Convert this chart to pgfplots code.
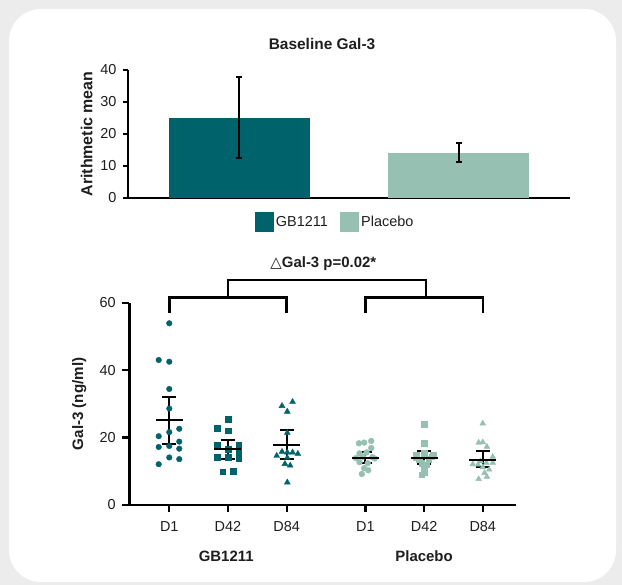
\documentclass[border=0pt]{standalone}
\usepackage{pgfplots}
\pgfplotsset{compat=1.18}
\usepackage{fontspec}
\setmainfont{Liberation Sans}
\newfontfamily\dejavu{DejaVu Sans}
\definecolor{gbteal}{RGB}{0,99,108}
\definecolor{placebo}{RGB}{150,192,177}
\definecolor{bggray}{RGB}{236,236,236}
\definecolor{txt}{RGB}{30,30,30}
\newcommand{\fs}[1]{\fontsize{#1}{#1}\selectfont}
\begin{document}
\begin{tikzpicture}[x=1bp,y=1bp]
\useasboundingbox (0,0) rectangle (622,585);
\fill[bggray] (0,0) rectangle (622,585);
\fill[white, rounded corners=32bp] (9,3) rectangle (616,576);

% ---------------- top chart ----------------
\begin{axis}[
  at={(128bp,387bp)}, anchor=south west,
  scale only axis, width=442bp, height=128bp,
  xmin=-0.508, xmax=1.507, ymin=0, ymax=40,
  axis lines*=left,
  axis line style={line width=2.5bp, black, -},
  xtick=\empty, ytick={0,10,20,30,40},
  tick align=outside, major tick length=5bp,
  tick style={line width=2.3bp, black},
  yticklabel style={font=\fs{14.5}, text=txt, xshift=-3bp, /pgf/number format/assume math mode=true},
  ylabel={\bfseries Arithmetic mean},
  every axis y label/.style={at={(axis description cs:-0.0935,0.5)}, rotate=90, anchor=center, font=\fs{16}, text=txt},
  title={\bfseries Baseline Gal-3},
  every axis title/.style={at={(axis description cs:0.439,1.203)}, anchor=center, font=\fs{15.5}, text=txt},
  legend style={draw=none, fill=none, inner sep=0pt, outer sep=0pt,
    at={(0.2873,-0.1875)}, anchor=west, font=\fs{14.5},
    nodes={inner sep=2.5bp, text=txt},
    /tikz/every even column/.append style={column sep=10bp}},
  legend columns=2,
  legend cell align=left,
  clip=false,
]
\addplot[ybar, bar width=141bp, bar shift=0pt, fill=gbteal, draw=none, forget plot,
  error bars/.cd, y dir=both, y explicit,
  error bar style={line width=2bp, black},
  error mark options={rotate=90, line width=2bp, mark size=3bp, black}]
  coordinates {(0,25.0) += (0,12.8) -= (0,12.5)};
\addplot[ybar, bar width=141bp, bar shift=0pt, fill=placebo, draw=none, forget plot,
  error bars/.cd, y dir=both, y explicit,
  error bar style={line width=2bp, black},
  error mark options={rotate=90, line width=2bp, mark size=3bp, black}]
  coordinates {(1,14.1) += (0,3.0) -= (0,2.9)};
\addlegendimage{legend image code/.code={\fill[gbteal] (0bp,-9.5bp) rectangle (18bp,9.5bp);}}
\addlegendentry{GB1211}
\addlegendimage{legend image code/.code={\fill[placebo] (0bp,-9.5bp) rectangle (18bp,9.5bp);}}
\addlegendentry{Placebo}
\end{axis}

% ---------------- bottom chart ----------------
\begin{axis}[
  at={(129.3bp,80bp)}, anchor=south west,
  scale only axis, width=386.7bp, height=202.3bp,
  xmin=-0.681, xmax=5.906, ymin=0, ymax=60,
  axis lines*=left,
  axis line style={line width=2.5bp, black, -},
  xtick={0,1,2,3.34,4.34,5.34},
  xticklabels={D1,D42,D84,D1,D42,D84},
  ytick={0,20,40,60},
  tick align=outside, major tick length=7bp,
  tick style={line width=2.3bp, black},
  yticklabel style={font=\fs{14.5}, text=txt, xshift=-3bp, /pgf/number format/assume math mode=true},
  xticklabel style={font=\fs{14.5}, text=txt, yshift=-6bp},
  ylabel={\bfseries Gal-3 (ng/ml)},
  every axis y label/.style={at={(axis description cs:-0.1295,0.5)}, rotate=90, anchor=center, font=\fs{15.2}, text=txt},
  title={{\dejavu\fs{15}\char"25B3}\bfseries Gal-3 p=0.02*},
  every axis title/.style={at={(axis description cs:0.5017,1.191)}, anchor=center, font=\fs{15}, text=txt},
  clip=false,
]
% GB1211 D1
\addplot[only marks, mark=*, mark size=2.8bp, color=gbteal] coordinates {
 (0,53.9) (-0.18,43.0) (0,42.5) (0,34.4) (0,28.6) (0.17,22.6) (0,21.6) (-0.18,20.4)
 (-0.18,17.2) (0,17.5) (0.17,18.8) (0.17,16.7) (0,14.1) (0.17,13.6) (-0.18,12.1)};
% GB1211 D42
\addplot[only marks, mark=square*, mark size=2.8bp, color=gbteal] coordinates {
 (1,25.4) (0.82,22.7) (1,22.0) (0.82,17.8) (1.18,17.8) (1,16.5) (1.18,16.0) (0.82,14.1)
 (1,14.1) (1.18,13.8) (0.91,9.9) (1.09,10.1)};
% GB1211 D84
\addplot[only marks, mark=triangle*, mark size=3.4bp, color=gbteal] coordinates {
 (1.92,29.4) (2.10,30.6) (2.01,27.7) (2.01,21.4) (1.83,14.6) (1.92,15.8) (2.01,15.6)
 (2.10,15.6) (2.19,15.2) (2.01,14.0) (1.97,12.2) (2.06,11.7) (2.01,6.7)};
% Placebo D1
\addplot[only marks, mark=*, mark size=2.9bp, color=placebo] coordinates {
 (3.23,18.3) (3.32,18.5) (3.44,19.0) (3.44,16.9) (3.24,15.3) (3.36,15.6) (3.18,13.9)
 (3.30,14.3) (3.50,13.8) (3.24,12.7) (3.38,12.4) (3.32,10.9) (3.39,10.3) (3.28,9.2) (3.46,14.2)};
% Placebo D42
\addplot[only marks, mark=square*, mark size=2.8bp, color=placebo] coordinates {
 (4.34,23.9) (4.34,18.3) (4.21,14.8) (4.34,15.3) (4.50,14.8) (4.26,13.4) (4.42,13.6)
 (4.30,12.4) (4.38,12.0) (4.20,14.0) (4.47,14.3) (4.34,11.3) (4.34,9.8) (4.30,9.0)};
% Placebo D84
\addplot[only marks, mark=triangle*, mark size=3.3bp, color=placebo] coordinates {
 (5.34,24.2) (5.27,18.5) (5.34,18.6) (5.41,17.3) (5.51,14.3) (5.17,12.1) (5.26,12.0)
 (5.40,12.5) (5.51,12.5) (5.34,11.2) (5.30,13.0) (5.45,10.5) (5.37,9.5) (5.41,8.4) (5.27,7.7)};
% mean +- SEM
\addplot[only marks, black, mark=-, mark size=13.5bp, mark options={line width=2.1bp, black},
  error bars/.cd, y dir=both, y explicit,
  error bar style={line width=2bp, black},
  error mark options={rotate=90, line width=2bp, mark size=7bp, black}]
  coordinates {
  (0,25.1) += (0,7.0) -= (0,6.9)
  (1,16.7) += (0,2.7) -= (0,3.0)
  (2,17.7) += (0,4.5) -= (0,4.2)
  (3.34,13.9) += (0,1.8) -= (0,1.3)
  (4.34,13.9) += (0,2.2) -= (0,1.8)
  (5.34,13.3) += (0,2.6) -= (0,2.1)};
% brackets
\addplot[black, line width=2.5bp, mark=none] coordinates {(0,57) (0,61.5) (2,61.5) (2,57)};
\addplot[black, line width=2.5bp, mark=none] coordinates {(3.34,57) (3.34,61.5) (5.34,61.5) (5.34,57)};
\addplot[black, line width=2.5bp, mark=none] coordinates {(1,61.5) (1,66.7) (4.37,66.7) (4.37,61.5)};
\node[font=\fs{15}\bfseries, text=txt] at (axis cs:0.97,-15.1) {GB1211};
\node[font=\fs{15}\bfseries, text=txt] at (axis cs:4.34,-15.1) {Placebo};
\end{axis}
\end{tikzpicture}
\end{document}
